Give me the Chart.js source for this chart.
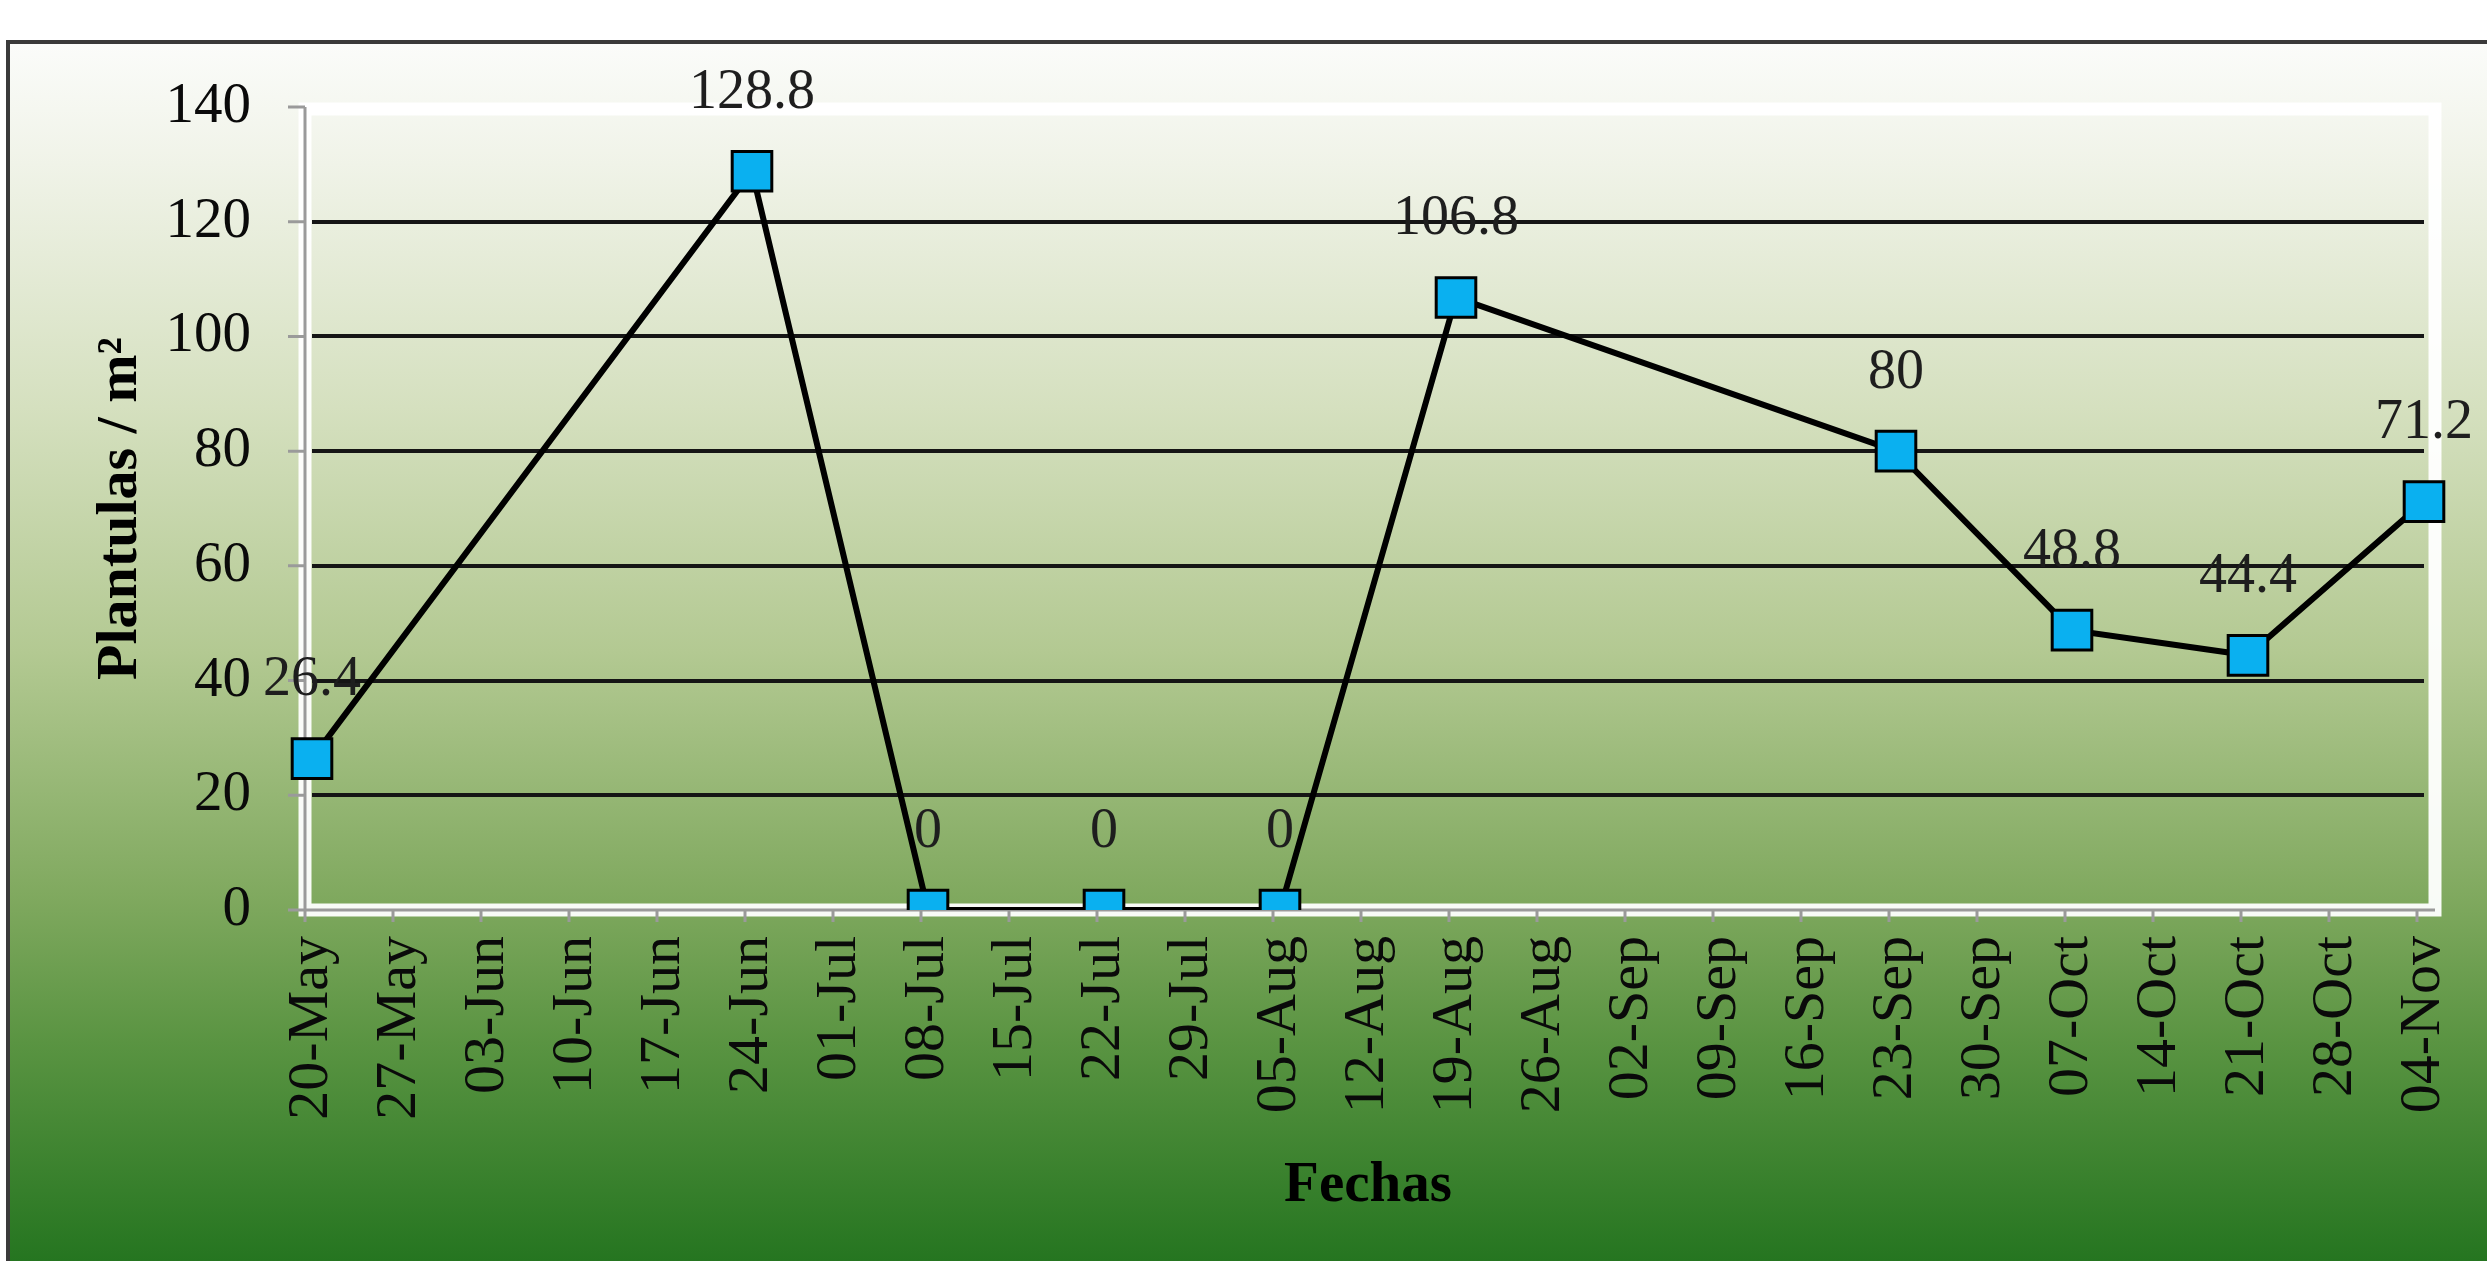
<!DOCTYPE html>
<html>
<head>
<meta charset="utf-8">
<title>Plantulas / m2</title>
<script src="https://cdn.jsdelivr.net/npm/chart.js@4.4.1/dist/chart.umd.min.js"></script>
<style>
  html, body { margin: 0; padding: 0; background: #ffffff; }
  #wrap { width: 2487px; height: 1261px; position: relative; overflow: hidden; }
</style>
</head>
<body>
<div id="wrap"><canvas id="plantChart" width="2487" height="1261"></canvas></div>
<script>
// --- datos ---
const fechas = ['20-May', '27-May', '03-Jun', '10-Jun', '17-Jun', '24-Jun', '01-Jul', '08-Jul',
  '15-Jul', '22-Jul', '29-Jul', '05-Aug', '12-Aug', '19-Aug', '26-Aug', '02-Sep', '09-Sep',
  '16-Sep', '23-Sep', '30-Sep', '07-Oct', '14-Oct', '21-Oct', '28-Oct', '04-Nov'];
const plantulas = [26.4, null, null, null, null, 128.8, null, 0, null, 0, null, 0, null, 106.8,
  null, null, null, null, 80, null, 48.8, null, 44.4, null, 71.2];
const yTicks = [0, 20, 40, 60, 80, 100, 120, 140];

const serif = "'Liberation Serif', 'Times New Roman', serif";

// fondo con degradado y marco
const framePlugin = {
  id: 'frame',
  beforeDraw(chart) {
    const { ctx, width, height } = chart;
    ctx.save();
    ctx.fillStyle = '#ffffff';
    ctx.fillRect(0, 0, width, height);
    const g = ctx.createLinearGradient(0, 42, 0, height);
    g.addColorStop(0.00, '#fbfcfa');
    g.addColorStop(0.10, '#f0f3e8');
    g.addColorStop(0.30, '#d5e0bf');
    g.addColorStop(0.50, '#b3c992');
    g.addColorStop(0.70, '#80a95f');
    g.addColorStop(0.82, '#5a9442');
    g.addColorStop(1.00, '#257520');
    ctx.fillStyle = g;
    ctx.fillRect(8, 42, width, height);
    ctx.strokeStyle = '#3a3a3a';
    ctx.lineWidth = 4;
    ctx.strokeRect(8, 42, width + 20, height + 20);
    ctx.restore();
  },
  beforeDatasetsDraw(chart) {
    const { ctx, chartArea: a, scales } = chart;
    const left = a.left - 7, right = a.right + 11, top = a.top + 2, bottom = a.bottom;
    ctx.save();
    // borde blanco del area de trazado
    ctx.strokeStyle = 'rgba(255,255,255,0.95)';
    ctx.lineWidth = 13;
    ctx.strokeRect(left, top, right - left, bottom - top);
    // ejes grises con marcas
    ctx.strokeStyle = '#9a9a9a';
    ctx.lineWidth = 3;
    ctx.beginPath();
    ctx.moveTo(left, top - 2);
    ctx.lineTo(left, bottom);
    ctx.lineTo(right, bottom);
    yTicks.forEach(v => {
      const y = scales.y.getPixelForValue(v);
      ctx.moveTo(left - 17, y);
      ctx.lineTo(left, y);
    });
    fechas.forEach((f, i) => {
      const x = scales.x.getPixelForValue(i) - 7;
      ctx.moveTo(x, bottom);
      ctx.lineTo(x, bottom + 12);
    });
    ctx.stroke();
    ctx.restore();
  },
  afterDatasetsDraw(chart) {
    // etiquetas de datos
    const { ctx } = chart;
    const meta = chart.getDatasetMeta(0);
    ctx.save();
    ctx.font = '56px ' + serif;
    ctx.fillStyle = '#1e1e1e';
    ctx.textAlign = 'center';
    ctx.textBaseline = 'middle';
    meta.data.forEach((pt, i) => {
      const v = plantulas[i];
      if (v === null) return;
      ctx.fillText(String(v), pt.x, pt.y - 78);
    });
    ctx.restore();
  }
};

new Chart(document.getElementById('plantChart'), {
  type: 'line',
  data: {
    labels: fechas,
    datasets: [{
      data: plantulas,
      spanGaps: true,
      borderColor: '#000000',
      borderWidth: 6,
      tension: 0,
      pointStyle: 'rect',
      pointRadius: 28,
      pointBackgroundColor: '#0ab0f0',
      pointBorderColor: '#000000',
      pointBorderWidth: 3
    }]
  },
  options: {
    responsive: false,
    animation: false,
    events: [],
    layout: { padding: { left: 0, top: 107, right: 63, bottom: 0 } },
    plugins: { legend: { display: false }, tooltip: { enabled: false } },
    scales: {
      x: {
        offset: false,
        afterFit(scale) {
          scale.height = 351;
          scale.paddingLeft = 0;
          scale.paddingRight = 0;
        },
        grid: { display: false, drawTicks: false },
        border: { display: false },
        ticks: {
          autoSkip: false,
          maxRotation: 90,
          minRotation: 90,
          padding: 26,
          color: '#0a0a0a',
          font: { family: serif, size: 58 }
        },
        title: {
          display: true,
          text: 'Fechas',
          color: '#000000',
          padding: { top: 0, bottom: 41 },
          font: { family: serif, size: 57, weight: 'bold' }
        }
      },
      y: {
        min: 0,
        max: 140,
        afterFit(scale) { scale.width = 312; },
        border: { display: false },
        grid: {
          drawTicks: false,
          lineWidth: 4,
          color: c => (c.tick && (c.tick.value === 0 || c.tick.value === 140)) ? 'rgba(0,0,0,0)' : '#151515'
        },
        ticks: {
          stepSize: 20,
          padding: 61,
          color: '#0a0a0a',
          font: { family: serif, size: 57 }
        },
        title: {
          display: true,
          text: 'Plantulas / m²',
          color: '#000000',
          padding: { top: 86, bottom: 0 },
          font: { family: serif, size: 58, weight: 'bold' }
        }
      }
    }
  },
  plugins: [framePlugin]
});
</script>
</body>
</html>
